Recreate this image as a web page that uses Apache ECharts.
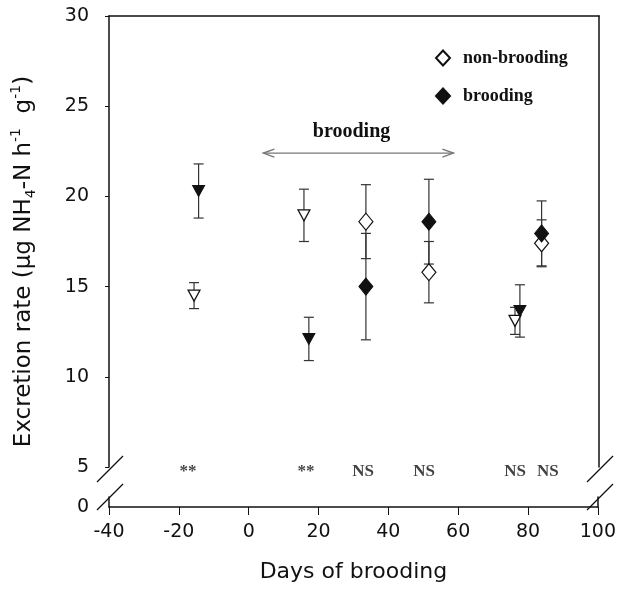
<!DOCTYPE html>
<html>
<head>
    <meta charset="utf-8">
    <title>Excretion rate</title>
    <script src="https://cdn.jsdelivr.net/npm/echarts@6.0.0/dist/echarts.min.js"></script>
    <style>
        html, body { margin: 0; padding: 0; background: #fff; }
    </style>
</head>
<body>

<div id="main" style="width: 619px;height:592px;"></div>

<script type="text/javascript">

    // days of brooding / excretion rate / +- error
    // first run (triangles)
    var triOpenDays = [-15.7, 15.7, 76.0];
    var triOpenRate = [14.5, 18.95, 13.1];
    var triOpenErr = [0.72, 1.45, 0.75];
    var triFillDays = [-14.4, 17.1, 77.4];
    var triFillRate = [20.3, 12.1, 13.65];
    var triFillErr = [1.5, 1.2, 1.45];
    // second run (diamonds)
    var diaOpenDays = [33.4, 51.4, 83.6];
    var diaOpenRate = [18.6, 15.8, 17.4];
    var diaOpenErr = [2.05, 1.7, 1.3];
    var diaFillDays = [33.4, 51.4, 83.6];
    var diaFillRate = [15.0, 18.6, 17.95];
    var diaFillErr = [2.95, 2.35, 1.8];

    // significance under each pair
    var sigDays = [-17.4, 16.3, 32.6, 50.0, 76.0, 85.4];
    var sigText = ['**', '**', 'NS', 'NS', 'NS', 'NS'];
    var sigLevel = 4.72;

    // brooding period arrow
    var arrowDays = [4.1, 58.4];
    var arrowLevel = 22.4;
    var arrowLabelAt = [29.3, 23.6];

    // axes
    var xMin = -40, xMax = 100, xStep = 20;
    var yMin = 5, yMax = 30, yStep = 5;
    var yLow = 0;

    var ink = '#111';
    var axisFont = 'DejaVu Sans';
    var serif = 'Liberation Serif';

    // layout (px)
    var L = 109, R = 20, T = 16;
    var upperH = 451;
    var lowerTop = 497, lowerH = 10;
    var plotW = 619 - L - R;

    function pts(days, rate) {
        var out = [];
        for (var i = 0; i < days.length; i++) out.push([days[i], rate[i]]);
        return out;
    }
    function bars(days, rate, err) {
        var out = [];
        for (var i = 0; i < days.length; i++) out.push([days[i], rate[i] - err[i], rate[i] + err[i]]);
        return out;
    }

    var errData = [].concat(
        bars(triOpenDays, triOpenRate, triOpenErr),
        bars(triFillDays, triFillRate, triFillErr),
        bars(diaOpenDays, diaOpenRate, diaOpenErr),
        bars(diaFillDays, diaFillRate, diaFillErr)
    );

    function renderErr(params, api) {
        var hi = api.coord([api.value(0), api.value(2)]);
        var lo = api.coord([api.value(0), api.value(1)]);
        var w = 5;
        var st = {stroke: '#333', lineWidth: 1.2};
        return {
            type: 'group',
            children: [
                {type: 'line', shape: {x1: hi[0], y1: hi[1], x2: lo[0], y2: lo[1]}, style: st},
                {type: 'line', shape: {x1: hi[0] - w, y1: hi[1], x2: hi[0] + w, y2: hi[1]}, style: st},
                {type: 'line', shape: {x1: lo[0] - w, y1: lo[1], x2: lo[0] + w, y2: lo[1]}, style: st}
            ]
        };
    }

    function renderArrow(params, api) {
        var a = api.coord([api.value(0), api.value(2)]);
        var b = api.coord([api.value(1), api.value(2)]);
        var lab = api.coord([api.value(3), api.value(4)]);
        var st = {stroke: '#777', lineWidth: 1.4, fill: null};
        return {
            type: 'group',
            children: [
                {type: 'line', shape: {x1: a[0], y1: a[1], x2: b[0], y2: b[1]}, style: st},
                {type: 'polyline', shape: {points: [[a[0] + 11, a[1] - 4], [a[0], a[1]], [a[0] + 11, a[1] + 4]]}, style: st},
                {type: 'polyline', shape: {points: [[b[0] - 11, b[1] - 4], [b[0], b[1]], [b[0] - 11, b[1] + 4]]}, style: st},
                {type: 'text', x: lab[0], y: lab[1], style: {
                    text: 'brooding', fill: ink, align: 'center', verticalAlign: 'middle',
                    font: 'bold 20px "' + serif + '"'
                }}
            ]
        };
    }

    function slash(cx, cy) {
        return {
            type: 'line', z: 100,
            shape: {x1: cx - 13, y1: cy + 13, x2: cx + 13, y2: cy - 13},
            style: {stroke: ink, lineWidth: 1.3}
        };
    }

    var lineSt = {color: ink, width: 1.5};

    var myChart = echarts.init(document.getElementById('main'));

    myChart.setOption({
        animation: false,
        backgroundColor: '#fff',
        grid: [
            {left: L, right: R, top: T, height: upperH},
            {left: L, right: R, top: lowerTop, height: lowerH},
            {left: L, right: R, top: T, height: lowerTop + lowerH - T}
        ],
        xAxis: [
            {
                gridIndex: 0, type: 'value', min: xMin, max: xMax, interval: xStep, position: 'top',
                axisLine: {onZero: false, lineStyle: lineSt},
                axisTick: {show: false}, axisLabel: {show: false}, splitLine: {show: false}
            },
            {
                gridIndex: 1, type: 'value', min: xMin, max: xMax, interval: xStep, position: 'bottom',
                axisLine: {onZero: false, lineStyle: lineSt},
                axisTick: {length: 8, lineStyle: {color: ink, width: 1}},
                axisLabel: {margin: 16, fontSize: 19, fontFamily: axisFont, color: ink},
                splitLine: {show: false},
                name: 'Days of brooding', nameLocation: 'middle', nameGap: 54,
                nameTextStyle: {fontSize: 22, fontFamily: axisFont, color: ink}
            },
            {gridIndex: 2, type: 'value', min: xMin, max: xMax, show: false}
        ],
        yAxis: [
            {
                gridIndex: 0, type: 'value', min: yMin, max: yMax, interval: yStep, position: 'left',
                axisLine: {show: true, onZero: false, lineStyle: lineSt},
                axisTick: {show: true, length: 4, lineStyle: {color: ink, width: 1}},
                axisLabel: {margin: 20, fontSize: 19, fontFamily: axisFont, color: ink},
                splitLine: {show: false}
            },
            {
                gridIndex: 0, type: 'value', min: yMin, max: yMax, position: 'right',
                axisLine: {show: true, onZero: false, lineStyle: lineSt},
                axisTick: {show: false}, axisLabel: {show: false}, splitLine: {show: false}
            },
            {
                gridIndex: 1, type: 'value', min: yLow, max: yLow + 1, interval: 1, position: 'left',
                axisLine: {show: true, onZero: false, lineStyle: lineSt},
                axisTick: {show: false},
                axisLabel: {margin: 20, fontSize: 19, fontFamily: axisFont, color: ink, customValues: [yLow]},
                splitLine: {show: false}
            },
            {
                gridIndex: 1, type: 'value', min: yLow, max: yLow + 1, position: 'right',
                axisLine: {show: true, onZero: false, lineStyle: lineSt},
                axisTick: {show: false}, axisLabel: {show: false}, splitLine: {show: false}
            },
            {
                gridIndex: 2, type: 'value', min: 0, max: 1, position: 'left',
                axisLine: {show: false}, axisTick: {show: false}, axisLabel: {show: false}, splitLine: {show: false},
                name: '{t|Excretion rate (µg NH}{s|4}{t|-N h}{p|-1}{t|  g}{p|-1}{t|)}',
                nameLocation: 'middle', nameGap: 70, nameRotate: 90,
                nameTextStyle: {
                    color: ink, fontFamily: axisFont, fontSize: 23,
                    rich: {
                        t: {fontSize: 23, fontFamily: axisFont, color: ink, lineHeight: 30},
                        s: {fontSize: 14, fontFamily: axisFont, color: ink, lineHeight: 30, padding: [15, 0, 0, 0]},
                        p: {fontSize: 14, fontFamily: axisFont, color: ink, lineHeight: 30, padding: [0, 0, 15, 0]}
                    }
                }
            }
        ],
        legend: {
            data: ['non-brooding', 'brooding'],
            orient: 'vertical', left: 430, top: 44,
            itemWidth: 14, itemHeight: 15, itemGap: 20,
            selectedMode: false,
            textStyle: {fontFamily: serif, fontWeight: 'bold', fontSize: 18, color: ink, padding: [0, 0, 0, 8]}
        },
        graphic: [
            slash(L + 1, T + upperH + 2),
            slash(L + 1, lowerTop),
            slash(L + plotW + 1, T + upperH + 2),
            slash(L + plotW + 1, lowerTop)
        ],
        series: [
            {
                type: 'custom', name: 'error', xAxisIndex: 0, yAxisIndex: 0,
                renderItem: renderErr, data: errData, encode: {x: 0, y: [1, 2]}, silent: true, z: 1
            },
            {
                type: 'custom', name: 'period', xAxisIndex: 0, yAxisIndex: 0,
                renderItem: renderArrow, silent: true, z: 1,
                data: [[arrowDays[0], arrowDays[1], arrowLevel, arrowLabelAt[0], arrowLabelAt[1]]]
            },
            {
                type: 'scatter', name: 'non-brooding 1', xAxisIndex: 0, yAxisIndex: 0,
                data: pts(triOpenDays, triOpenRate),
                symbol: 'triangle', symbolRotate: 180, symbolSize: [12, 11], z: 3,
                itemStyle: {color: '#fff', borderColor: ink, borderWidth: 1.2, opacity: 1}
            },
            {
                type: 'scatter', name: 'brooding 1', xAxisIndex: 0, yAxisIndex: 0,
                data: pts(triFillDays, triFillRate),
                symbol: 'triangle', symbolRotate: 180, symbolSize: [12, 11], z: 4,
                itemStyle: {color: ink, borderColor: ink, borderWidth: 1, opacity: 1}
            },
            {
                type: 'scatter', name: 'non-brooding', xAxisIndex: 0, yAxisIndex: 0,
                data: pts(diaOpenDays, diaOpenRate),
                symbol: 'diamond', symbolSize: [14, 17], z: 3,
                itemStyle: {color: '#fff', borderColor: ink, borderWidth: 1.2, opacity: 1}
            },
            {
                type: 'scatter', name: 'brooding', xAxisIndex: 0, yAxisIndex: 0,
                data: pts(diaFillDays, diaFillRate),
                symbol: 'diamond', symbolSize: [14, 17], z: 4,
                itemStyle: {color: ink, borderColor: ink, borderWidth: 1, opacity: 1}
            },
            {
                type: 'scatter', name: 'significance', xAxisIndex: 0, yAxisIndex: 0,
                data: sigDays.map(function (d) { return [d, sigLevel]; }),
                symbolSize: 1, clip: false, silent: true,
                itemStyle: {color: 'rgba(0,0,0,0)'},
                label: {
                    show: true, position: 'inside',
                    formatter: function (p) { return sigText[p.dataIndex]; },
                    fontFamily: serif, fontWeight: 'bold', fontSize: 17, color: ink
                }
            }
        ]
    });

</script>
</body>
</html>
